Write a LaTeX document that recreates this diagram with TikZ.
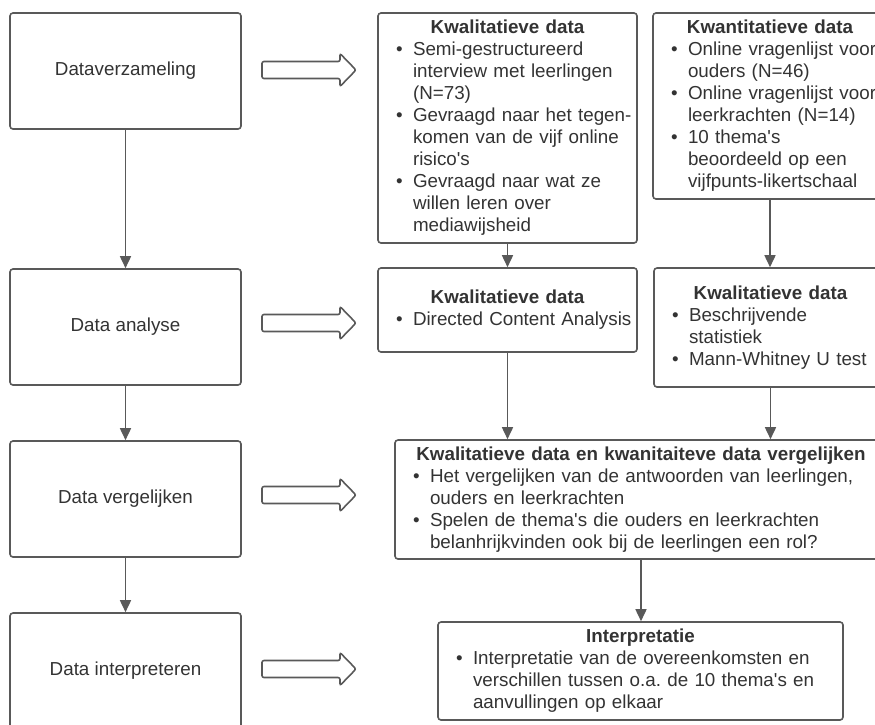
\documentclass[tikz,border=0pt]{standalone}
\usepackage{fontspec}
\setmainfont{Liberation Sans}
\usetikzlibrary{arrows.meta}

\definecolor{lijn}{HTML}{595959}
\definecolor{tekst}{HTML}{333333}
\setlength{\parindent}{0pt}
\frenchspacing

\newcommand{\kop}[1]{{\centering\bfseries #1\par}}
\newcommand{\punt}[1]{\makebox[17pt][l]{\textbullet}\mbox{#1}}
\newcommand{\verder}[1]{\hspace*{17pt}\mbox{#1}}
\newcommand{\apo}{\textquotesingle}

\begin{document}
\begin{tikzpicture}[x=1pt, y=-1pt,
	fase/.style={draw=lijn, line width=1.6pt, rounded corners=3pt, minimum width=231pt, minimum height=116pt, text=tekst, font=\fontsize{18.8}{22}\selectfont},
	vak/.style={draw=lijn, line width=1.6pt, rounded corners=3pt, text=tekst, inner xsep=0pt, inner ysep=2pt, align=left, font=\fontsize{18.8}{22}\selectfont},
	pijl/.style={draw=lijn, line width=1.6pt, -{Triangle[length=12pt, width=11pt]}},
	blok/.style={draw=lijn, line width=1.6pt, rounded corners=2pt}]
	
	\useasboundingbox (0,0) rectangle (875,724);
	\clip (0,0) rectangle (875,724);
	
	\node[fase] (verz) at (125.5,71) {Dataverzameling};
	
	\node[fase] (ana) at (125.5,327) {Data analyse};
	
	\node[fase] (verg) at (125.5,499) {Data vergelijken};
	
	\node[fase] (interp) at (125.5,671) {Data interpreteren};
	
	\node[vak, minimum width=259pt, minimum height=230pt, text width=223pt] (verz-kwal) at (507.5,128) {\kop{Kwalitatieve data}
		\punt{Semi-gestructureerd}\\ \verder{interview met leerlingen}\\ \verder{(N=73)}\\
		\punt{Gevraagd naar het tegen-}\\ \verder{komen van de vijf online}\\ \verder{risico\apo s}\\
		\punt{Gevraagd naar wat ze}\\ \verder{willen leren over}\\ \verder{mediawijsheid}};
	
	\node[vak, minimum width=234pt, minimum height=186pt, text width=198pt] (verz-kwan) at (770,106) {\kop{Kwantitatieve data}
		\punt{Online vragenlijst voor}\\ \verder{ouders (N=46)}\\
		\punt{Online vragenlijst voor}\\ \verder{leerkrachten (N=14)}\\
		\punt{10 thema\apo s}\\ \verder{beoordeeld op een}\\ \verder{vijfpunts-likertschaal}};
	
	\node[vak, minimum width=259pt, minimum height=84pt, text width=223pt] (ana-kwal) at (507.5,310) {\kop{Kwalitatieve data}
		\punt{Directed Content Analysis}};
	
	\node[vak, minimum width=233pt, minimum height=119pt, text width=197pt] (ana-kwan) at (770.5,327.5) {\kop{Kwalitatieve data}
		\punt{Beschrijvende}\\ \verder{statistiek}\\
		\punt{Mann-Whitney U test}};
	
	\node[vak, minimum width=492pt, minimum height=119pt, text width=456pt] (vergelijk) at (641,499.5) {\kop{Kwalitatieve data en kwanitaiteve data vergelijken}
		\punt{Het vergelijken van de antwoorden van leerlingen,}\\ \verder{ouders en leerkrachten}\\
		\punt{Spelen de thema\apo s die ouders en leerkrachten}\\ \verder{belanhrijkvinden ook bij de leerlingen een rol?}};
	
	\node[vak, minimum width=405pt, minimum height=98pt, text width=369pt] (interpretatie) at (640.5,671) {\kop{Interpretatie}
		\punt{Interpretatie van de overeenkomsten en}\\ \verder{verschillen tussen o.a. de 10 thema\apo s en}\\ \verder{aanvullingen op elkaar}};
	
	\foreach \y in {70,323,495,669}
		\draw[blok] (262,\y-8.5) -- (340,\y-8.5) -- (340,\y-16.5) -- (356,\y) -- (340,\y+16.5) -- (340,\y+8.5) -- (262,\y+8.5) -- cycle;
	
	\draw[pijl] (verz) -- (ana);
	\draw[pijl] (ana) -- (verg);
	\draw[pijl] (verg) -- (interp);
	\draw[pijl] (verz-kwal) -- (ana-kwal);
	\draw[pijl] (verz-kwan.south) -- (verz-kwan.south |- ana-kwan.north);
	\draw[pijl] (ana-kwal.south) -- (ana-kwal.south |- vergelijk.north);
	\draw[pijl] (ana-kwan.south) -- (ana-kwan.south |- vergelijk.north);
	\draw[pijl] (vergelijk.south) -- (vergelijk.south |- interpretatie.north);
	
\end{tikzpicture}
\end{document}
